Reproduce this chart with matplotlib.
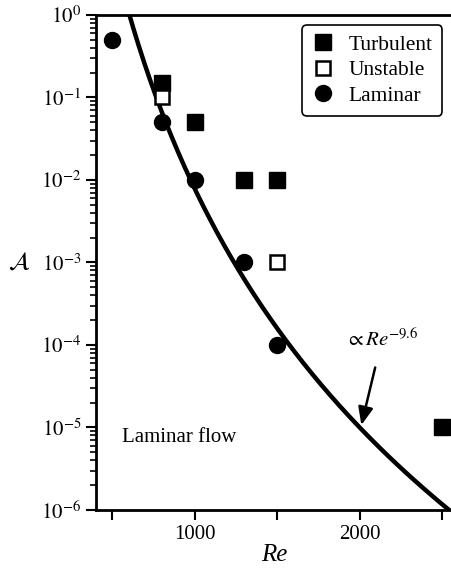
import matplotlib
matplotlib.use("Agg")
import matplotlib.pyplot as plt
from matplotlib.ticker import LogLocator, NullFormatter
import numpy as np

plt.rcParams['font.family'] = ['Liberation Serif', 'DejaVu Serif']
plt.rcParams['mathtext.fontset'] = 'stix'

# data
turb_re = [800, 1000, 1300, 1500, 2500]
turb_a = [0.15, 0.05, 0.01, 0.01, 1e-5]
unst_re = [800, 1500]
unst_a = [0.1, 1e-3]
lam_re = [500, 800, 1000, 1300, 1500]
lam_a = [0.5, 0.05, 0.01, 1e-3, 1e-4]

# power-law fit, A ~ Re^-9.6, through ~1e-5 at Re=2000
fit_exp = -9.6
fit_ref_re = 2000
fit_ref_a = 1e-5

fig = plt.figure(figsize=(4.52, 5.74), dpi=100)
ax = fig.add_axes([0.2124, 0.1115, 0.7876, 0.8624])

re = np.linspace(400, 2600, 400)
ax.plot(re, fit_ref_a * (re / fit_ref_re) ** fit_exp, color='k', lw=3.2, zorder=2)

ax.plot(turb_re, turb_a, 's', color='k', ms=11.5, ls='none', label='Turbulent', zorder=3)
ax.plot(unst_re, unst_a, 's', mfc='white', mec='k', mew=1.8, ms=10.5, ls='none',
        label='Unstable', zorder=3)
ax.plot(lam_re, lam_a, 'o', color='k', ms=11.5, ls='none', label='Laminar', zorder=3)

ax.set_yscale('log')
ax.set_xlim(400, 2560)
ax.set_ylim(1e-6, 1)
ax.set_xticks([500, 1000, 1500, 2000, 2500])
ax.set_xticklabels(['', '1000', '', '2000', ''])
ax.set_yticks([10.0 ** k for k in range(-6, 1)])
ax.set_yticklabels([r'$10^{%d}$' % k for k in range(-6, 1)])
ax.yaxis.set_minor_locator(LogLocator(base=10, subs=np.arange(2, 10), numticks=20))
ax.yaxis.set_minor_formatter(NullFormatter())

for s in ['left', 'bottom', 'top']:
    ax.spines[s].set_linewidth(2)
ax.spines['right'].set_visible(False)
ax.tick_params(which='major', direction='out', length=7, width=1.5, labelsize=15, top=False, right=False)
ax.tick_params(which='minor', direction='out', length=4.5, width=1.2, top=False, right=False)
ax.tick_params(axis='x', which='minor', bottom=False)

ax.set_xlabel('Re', fontsize=18, style='italic', labelpad=0)
ax.set_ylabel(r'$\mathcal{A}$', fontsize=18, rotation=0, labelpad=16, va='center')

ax.text(557, 7.6e-6, 'Laminar flow', fontsize=15, va='center', ha='left')
ax.annotate(r'$\propto Re^{-9.6}$', xy=(2010, 1.07e-5), xytext=(2134, 1.15e-4),
            fontsize=15, ha='center', va='center',
            arrowprops=dict(arrowstyle='-|>,head_length=0.6,head_width=0.25', color='k',
                            lw=1.8, mutation_scale=18, shrinkA=10, shrinkB=0))

leg = ax.legend(loc='upper right', bbox_to_anchor=(0.985, 0.988), fontsize=15.5,
                frameon=True, fancybox=True, edgecolor='k', framealpha=1,
                handlelength=1.0, handletextpad=0.7, borderpad=0.45, labelspacing=0.25,
                borderaxespad=0.2)
leg.get_frame().set_linewidth(1.2)

fig.savefig('out.png', dpi=100)
